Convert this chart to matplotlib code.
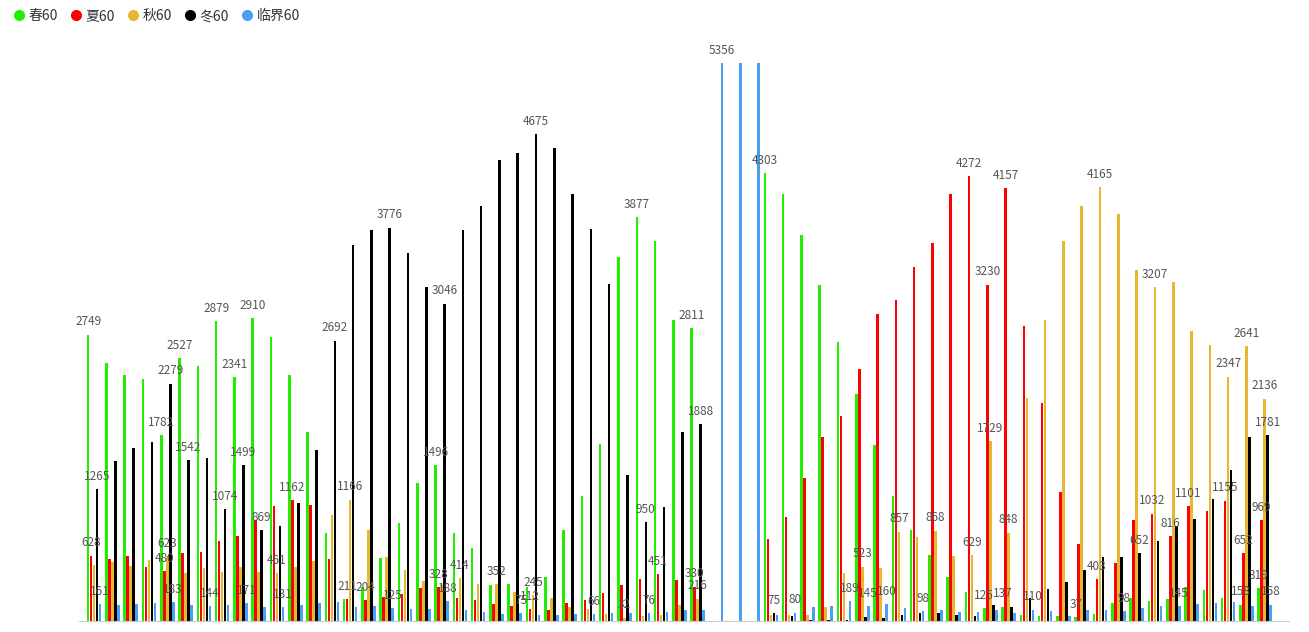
import numpy as np
import matplotlib.pyplot as plt

plt.rcParams['font.family'] = ['Noto Sans CJK SC', 'DejaVu Sans']

series = ['春60', '夏60', '秋60', '冬60', '临界60']
colors = ['#22ee00', '#ff0000', '#e6b832', '#000000', '#4a9ff5']

spring = [2749, 2473, 2358, 2325, 1782, 2527, 2447, 2879, 2341, 2910, 2725, 2361, 1817, 845, 208, 330,
          607, 942, 1321, 1496, 844, 698, 341, 357, 331, 422, 877, 1201, 1695, 3497, 3877, 3649, 2893, 2811,
          0, 0, 0,
          4303, 4097, 3709, 3223, 2683, 2175, 1686, 1197, 870, 635, 424, 279, 125, 137, 58, 48, 48, 37, 67,
          176, 218, 195, 211, 327, 298, 218, 158, 319]
summer = [628, 595, 624, 521, 480, 650, 665, 765, 816, 969, 1106, 1162, 1113, 595, 211, 204,
          234, 260, 315, 328, 218, 201, 159, 146, 112, 104, 169, 201, 266, 341, 406, 451, 390, 330,
          0, 0, 0,
          790, 997, 1371, 1766, 1969, 2422, 2944, 3082, 3401, 3626, 4104, 4272, 3230, 4157, 2829, 2092, 1243, 740, 403,
          561, 971, 1032, 816, 1101, 1057, 1155, 652, 969]
autumn = [537, 566, 528, 585, 623, 460, 512, 470, 518, 473, 461, 521, 576, 1017, 1166, 873,
          617, 494, 380, 341, 414, 357, 352, 282, 245, 218, 136, 114, 71, 32, 45, 55, 153, 216,
          0, 0, 0,
          54, 62, 62, 138, 460, 523, 508, 857, 809, 868, 624, 629, 1729, 848, 2140, 2887, 3646, 3989, 4165,
          3903, 3374, 3207, 3252, 2788, 2647, 2347, 2641, 2136]
winter = [1265, 1535, 1660, 1721, 2279, 1542, 1564, 1074, 1499, 869, 912, 1132, 1638, 2692, 3608, 3752,
          3776, 3536, 3211, 3046, 3750, 3984, 4422, 4494, 4675, 4542, 4104, 3766, 3237, 1403, 950, 1094, 1815, 1888,
          0, 0, 0,
          75, 44, 11, 11, 11, 34, 33, 54, 80, 73, 54, 47, 154, 131, 218, 308, 372, 490, 612,
          618, 652, 772, 913, 977, 1173, 1445, 1765, 1781]
critical = [161, 154, 161, 170, 183, 154, 144, 154, 171, 137, 131, 154, 176, 182, 137, 144,
            125, 120, 120, 188, 110, 88, 71, 75, 55, 55, 65, 66, 78, 78, 76, 88, 104, 110,
            5356, 5356, 5356,
            54, 80, 138, 145, 189, 145, 160, 127, 98, 109, 91, 83, 102, 80, 110, 96, 51, 106, 106,
            98, 122, 144, 145, 163, 170, 179, 144, 158]
values = [spring, summer, autumn, winter, critical]

# which groups carry a value label, per series
labeled = [
    [0, 4, 5, 7, 8, 9, 19, 30, 33, 37, 49, 50, 54, 63, 64],
    [0, 4, 11, 14, 15, 19, 24, 31, 33, 48, 49, 50, 55, 58, 59, 60, 62, 63, 64],
    [4, 10, 14, 20, 22, 24, 29, 33, 42, 44, 46, 48, 49, 50, 55, 58, 62, 63, 64],
    [0, 4, 5, 7, 8, 9, 13, 16, 19, 24, 30, 33, 37, 57, 64],
    [0, 4, 6, 8, 10, 16, 19, 23, 27, 30, 34, 38, 41, 42, 43, 45, 51, 56, 59, 64],
]

n = len(spring)
x = np.arange(n)
step = 0.164
width = 0.14

fig = plt.figure(figsize=(13.09, 6.32), dpi=100)
ax = fig.add_axes([0.06, 0.0174, 0.925, 0.919])

for i, (name, col, vals) in enumerate(zip(series, colors, values)):
    pos = x + (i - 2) * step
    ax.bar(pos, vals, width=width, color=col, label=name)
    for k in labeled[i]:
        ax.text(pos[k], vals[k] + 60, str(vals[k]), ha='center', va='bottom',
                fontsize=8.5, color='#555555')

ax.set_xlim(-0.85, n + 0.35)
ax.set_ylim(0, 5576)
ax.set_xticks([])
ax.set_yticks([])
for s in ['top', 'right', 'left']:
    ax.spines[s].set_visible(False)
ax.spines['bottom'].set_color('#cccccc')

handles = [plt.Line2D([], [], marker='o', linestyle='', color=c, markersize=7) for c in colors]
fig.legend(handles, series, loc='upper left', bbox_to_anchor=(-0.006, 1.005), ncol=5, frameon=False,
           handletextpad=-0.3, columnspacing=0.3, fontsize=10, labelcolor='#333333')

fig.savefig('out.png', dpi=100)
